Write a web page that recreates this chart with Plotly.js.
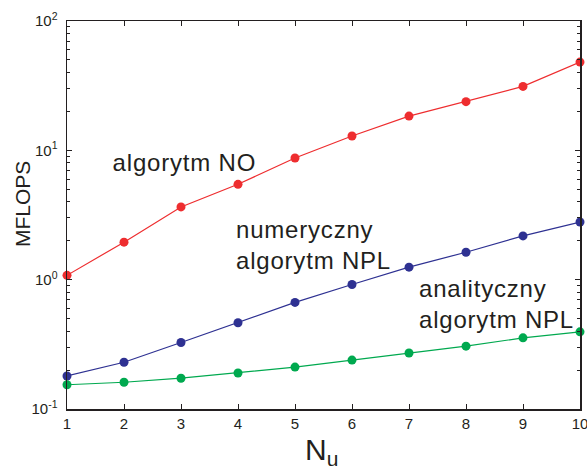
<!DOCTYPE html>
<html>
<head>
<meta charset="utf-8">
<script src="https://cdn.plot.ly/plotly-3.0.1.min.js"></script>
<style>
html,body{margin:0;padding:0;background:#fff;}
#chart{width:587px;height:469px;}
.annotation-text.lbl{letter-spacing:0.8px;}
</style>
</head>
<body>
<div id="chart"></div>
<script>
// Data
const nu = [1, 2, 3, 4, 5, 6, 7, 8, 9, 10];
const algNO = [1.08, 1.95, 3.65, 5.46, 8.72, 12.9, 18.4, 23.8, 31.2, 48.1];
const numNPL = [0.180, 0.230, 0.327, 0.464, 0.667, 0.918, 1.25, 1.63, 2.18, 2.79];
const anaNPL = [0.154, 0.161, 0.173, 0.190, 0.211, 0.239, 0.271, 0.306, 0.355, 0.395];
const yTickVals = [0.1, 1, 10, 100];
const yTickText = ['10<sup>-1</sup>', '10<sup>0</sup>', '10<sup>1</sup>', '10<sup>2</sup>'];
const xTickVals = [1, 2, 3, 4, 5, 6, 7, 8, 9, 10];

const minorVals = [];
for (let e = -1; e < 2; e++) {
  for (let m = 2; m <= 9; m++) minorVals.push(m * Math.pow(10, e));
}

const FONT = 'Liberation Sans, Arial, Helvetica, sans-serif';
const INK = '#231f20';

function series(y, color) {
  return {
    x: nu, y: y, type: 'scatter', mode: 'lines+markers',
    line: {color: color, width: 1.2},
    marker: {color: color, size: 9},
    cliponaxis: false, showlegend: false, hoverinfo: 'skip'
  };
}

const data = [
  series(algNO, '#ee2d2f'),
  series(numNPL, '#2e3192'),
  series(anaNPL, '#00a94f')
];

const layout = {
  width: 587, height: 469,
  margin: {l: 67, r: 7, t: 21, b: 60, pad: 0},
  paper_bgcolor: '#fff', plot_bgcolor: '#fff',
  font: {family: FONT, color: INK},
  xaxis: {
    range: [1, 10], tickmode: 'array', tickvals: xTickVals,
    ticks: 'inside', ticklen: 5, tickwidth: 1, tickcolor: INK,
    showline: true, linecolor: INK, linewidth: 1.5, mirror: 'ticks',
    showgrid: false, zeroline: false, ticklabeloverflow: 'allow',
    tickfont: {family: FONT, size: 15, color: INK}
  },
  yaxis: {
    type: 'log', range: [-1, 2], tickmode: 'array',
    tickvals: yTickVals, ticktext: yTickText,
    ticks: 'inside', ticklen: 5, tickwidth: 1, tickcolor: INK,
    ticklabelstandoff: 5,
    minor: {tickmode: 'array', tickvals: minorVals, ticks: 'inside', ticklen: 3, tickwidth: 1, tickcolor: INK},
    showline: true, linecolor: INK, linewidth: 1.5, mirror: 'ticks',
    showgrid: false, zeroline: false,
    tickfont: {family: FONT, size: 15, color: INK}
  },
  annotations: [
    {xref: 'x', yref: 'y', x: 1.84, y: 0.907, xanchor: 'left', yanchor: 'middle',
     text: 'algorytm NO', showarrow: false, font: {family: FONT, size: 24, color: INK}},
    {xref: 'x', yref: 'y', x: 3.93, y: 0.266, xanchor: 'left', yanchor: 'middle', align: 'left',
     text: 'numeryczny<br>algorytm NPL', showarrow: false, font: {family: FONT, size: 24, color: INK}},
    {xref: 'x', yref: 'y', x: 7.14, y: -0.185, xanchor: 'left', yanchor: 'middle', align: 'left',
     text: 'analityczny<br>algorytm NPL', showarrow: false, font: {family: FONT, size: 24, color: INK}},
    {xref: 'paper', yref: 'paper', x: -0.087, y: 0.529, xanchor: 'center', yanchor: 'middle',
     textangle: -90, text: 'MFLOPS', showarrow: false, font: {family: FONT, size: 21, color: INK}},
    {xref: 'paper', yref: 'paper', x: 0.497, y: -0.109, xanchor: 'center', yanchor: 'middle',
     text: 'N<sub>u</sub>', showarrow: false, font: {family: FONT, size: 30, color: INK}}
  ]
};

Plotly.newPlot('chart', data, layout, {displayModeBar: false, staticPlot: true}).then(function (gd) {
  const texts = gd.querySelectorAll('.annotation-text');
  for (let i = 0; i < 3 && i < texts.length; i++) texts[i].classList.add('lbl');
});
</script>
</body>
</html>
